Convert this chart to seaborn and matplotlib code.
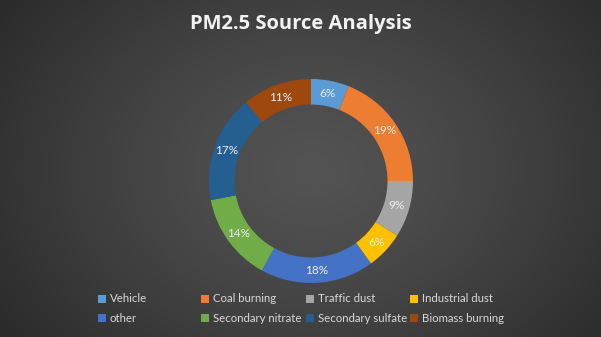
import numpy as np
import matplotlib
matplotlib.use("Agg")
import matplotlib.pyplot as plt
import seaborn as sns
from matplotlib.patches import Rectangle

categories = ["Vehicle", "Coal burning", "Traffic dust", "Industrial dust",
              "other", "Secondary nitrate", "Secondary sulfate", "Biomass burning"]
values = [6, 19, 9, 6, 18, 14, 17, 11]
colors = ["#5B9BD5", "#ED7D31", "#A5A5A5", "#FFC000",
          "#4472C4", "#70AD47", "#255E91", "#9E480E"]
title = "PM2.5 Source Analysis"

sns.set_theme(style="white")
plt.rcParams['font.family'] = ['Lato', 'DejaVu Sans']
palette = sns.color_palette(colors)

W, H = 601, 337
fig = plt.figure(figsize=(W / 100, H / 100), dpi=100)

# radial gradient background
bg = fig.add_axes([0, 0, 1, 1])
yy, xx = np.mgrid[0:H, 0:W]
r = np.sqrt(((xx - W * 0.52) / (W * 0.62)) ** 2 + ((yy - H * 0.5) / (H * 0.85)) ** 2)
r = np.clip(r, 0, 1)
c0, c1 = 0x53 / 255, 0x2b / 255
g = c0 + (c1 - c0) * r ** 1.3
img = np.dstack([g, g, g])
bg.imshow(img, aspect="auto", extent=[0, 1, 0, 1], origin="upper")
bg.set_axis_off()

cx, cy, R = 311, 181, 102
ax = fig.add_axes([(cx - R) / W, (H - cy - R) / H, 2 * R / W, 2 * R / H])
ax.set_axis_off()
width = 0.25
wedges, _ = ax.pie(values, colors=palette, startangle=90, counterclock=False,
                   radius=1, wedgeprops=dict(width=width, linewidth=0))
ax.set_xlim(-1, 1)
ax.set_ylim(-1, 1)
ax.set_aspect("equal")

total = sum(values)
for w, v in zip(wedges, values):
    ang = np.deg2rad((w.theta1 + w.theta2) / 2)
    rr = 1 - width / 2
    ax.text(rr * np.cos(ang), rr * np.sin(ang), f"{round(100 * v / total)}%",
            ha="center", va="center", color="#eeeeee", fontsize=8.5)

fig.text(0.5, 1 - 24 / H, title, ha="center", va="center", color="#f2f2f2",
         fontsize=14.5, fontweight="bold", family=["Open Sans", "DejaVu Sans"])

col_x = [98, 201, 306, 410]
row_y = [299, 318]
sq = 8
for i, (cat, col) in enumerate(zip(categories, palette)):
    x = col_x[i % 4]
    y = row_y[i // 4]
    fig.patches.append(Rectangle(((x) / W, (H - y - sq / 2) / H), sq / W, sq / H,
                                 transform=fig.transFigure, facecolor=col,
                                 edgecolor="none"))
    fig.text((x + sq + 4) / W, (H - y) / H, cat, ha="left", va="center",
             color="#d9d9d9", fontsize=8.2)

fig.savefig("out.png", dpi=100)
